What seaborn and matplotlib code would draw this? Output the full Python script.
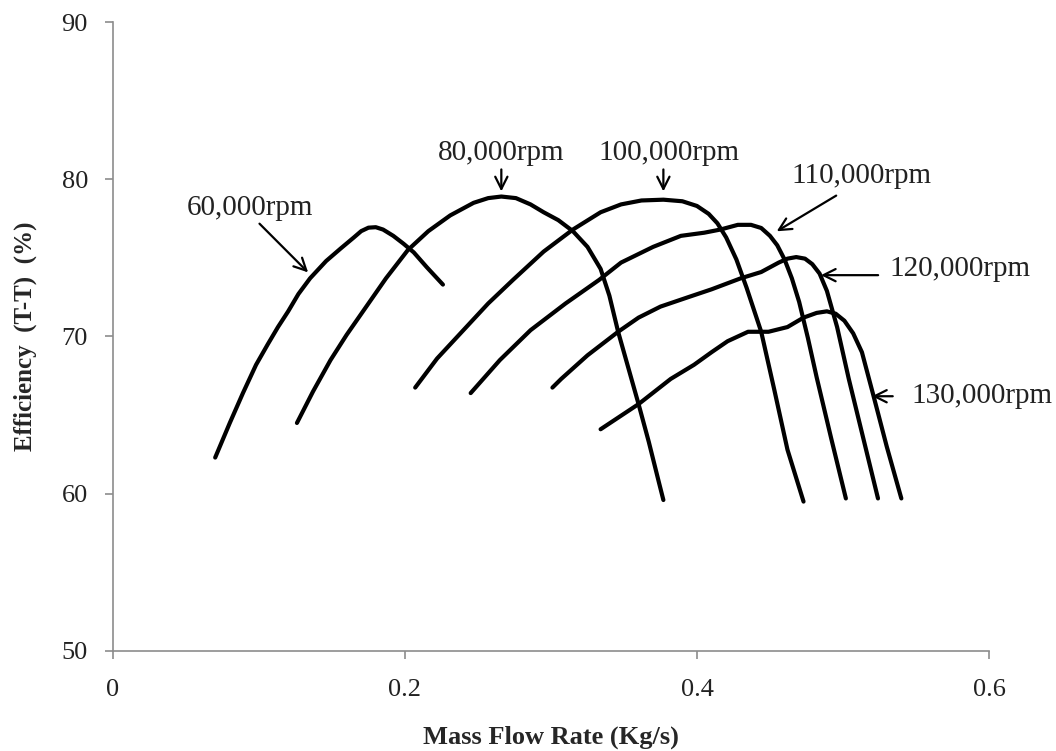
import numpy as np
import pandas as pd
import matplotlib
matplotlib.use("Agg")
import matplotlib.pyplot as plt
import seaborn as sns

# Efficiency curves, one pair of arrays per speed line
m60 = [0.070, 0.080, 0.089, 0.098, 0.106, 0.113, 0.120, 0.127, 0.135, 0.146,
       0.156, 0.165, 0.170, 0.175, 0.180, 0.185, 0.192, 0.199, 0.206, 0.215,
       0.226]
e60 = [62.3, 64.5, 66.4, 68.2, 69.5, 70.6, 71.6, 72.7, 73.7, 74.8,
       75.6, 76.3, 76.7, 76.92, 76.95, 76.8, 76.4, 75.9, 75.35, 74.4,
       73.3]

m80 = [0.126, 0.137, 0.149, 0.160, 0.172, 0.187, 0.202, 0.216, 0.231, 0.247,
       0.257, 0.266, 0.276, 0.286, 0.295, 0.305, 0.315, 0.325, 0.334, 0.340,
       0.346, 0.353, 0.360, 0.367, 0.374, 0.377]
e80 = [64.5, 66.5, 68.5, 70.1, 71.7, 73.7, 75.5, 76.7, 77.7, 78.5,
       78.8, 78.9, 78.8, 78.4, 77.9, 77.4, 76.7, 75.7, 74.3, 72.6,
       70.3, 68.0, 65.7, 63.3, 60.7, 59.6]

m100 = [0.207, 0.222, 0.240, 0.257, 0.274, 0.295, 0.315, 0.334, 0.348, 0.362,
        0.377, 0.390, 0.400, 0.408, 0.414, 0.420, 0.427, 0.434, 0.444, 0.453,
        0.462, 0.473]
e100 = [66.75, 68.6, 70.4, 72.1, 73.6, 75.4, 76.8, 77.9, 78.4, 78.65,
        78.7, 78.6, 78.3, 77.8, 77.2, 76.3, 74.9, 73.1, 70.3, 66.6,
        62.8, 59.5]

m110 = [0.245, 0.265, 0.286, 0.310, 0.333, 0.348, 0.370, 0.389, 0.405, 0.416,
        0.428, 0.437, 0.444, 0.450, 0.455, 0.460, 0.465, 0.470, 0.476, 0.482,
        0.492, 0.502]
e110 = [66.4, 68.5, 70.4, 72.1, 73.6, 74.7, 75.7, 76.4, 76.6, 76.8,
        77.1, 77.1, 76.9, 76.4, 75.8, 74.9, 73.7, 72.2, 69.9, 67.4,
        63.5, 59.7]

m120 = [0.301, 0.307, 0.325, 0.346, 0.360, 0.375, 0.394, 0.410, 0.430, 0.444,
        0.456, 0.462, 0.468, 0.474, 0.479, 0.484, 0.489, 0.496, 0.504, 0.514,
        0.524]
e120 = [66.75, 67.3, 68.8, 70.3, 71.2, 71.9, 72.5, 73.0, 73.7, 74.1,
        74.7, 74.95, 75.05, 74.95, 74.6, 74.0, 72.9, 70.6, 67.3, 63.5,
        59.7]

m130 = [0.334, 0.347, 0.360, 0.382, 0.398, 0.410, 0.421, 0.435, 0.449, 0.462,
        0.473, 0.482, 0.489, 0.495, 0.501, 0.507, 0.513, 0.521, 0.530, 0.540]
e130 = [64.1, 64.9, 65.7, 67.3, 68.2, 69.0, 69.7, 70.3, 70.3, 70.6,
        71.2, 71.5, 71.6, 71.45, 71.0, 70.2, 69.0, 66.2, 63.0, 59.7]

speeds = ["60,000rpm", "80,000rpm", "100,000rpm", "110,000rpm", "120,000rpm", "130,000rpm"]
flows = [m60, m80, m100, m110, m120, m130]
effs = [e60, e80, e100, e110, e120, e130]

x_ticks = [0, 0.2, 0.4, 0.6]
x_tick_labels = ["0", "0.2", "0.4", "0.6"]
y_ticks = [50, 60, 70, 80, 90]

# long table for seaborn
frames = []
for name, m, e in zip(speeds, flows, effs):
    frames.append(pd.DataFrame({"flow": m, "eff": e, "speed": name}))
df = pd.concat(frames, ignore_index=True)

sns.set_theme(style="white")
plt.rcParams["font.family"] = ["Liberation Serif", "DejaVu Serif"]
plt.rcParams["lines.solid_joinstyle"] = "round"
plt.rcParams["lines.solid_capstyle"] = "round"

fig = plt.figure(figsize=(10.56, 7.51), dpi=100)
ax = fig.add_axes([0.107, 0.1332, 0.8295, 0.8375])

sns.lineplot(data=df, x="flow", y="eff", hue="speed", units="speed",
             estimator=None, sort=False, palette=["black"] * len(speeds),
             linewidth=3.0, legend=False, ax=ax)

ax.set_xlim(0, 0.6)
ax.set_ylim(50, 90)
ax.set_xticks(x_ticks)
ax.set_xticklabels(x_tick_labels)
ax.set_yticks(y_ticks)

for side in ["top", "right"]:
    ax.spines[side].set_visible(False)
for side in ["left", "bottom"]:
    ax.spines[side].set_color("#8c8c8c")
    ax.spines[side].set_linewidth(1.2)

ax.tick_params(axis="both", which="major", direction="out", length=6, width=1.2,
               color="#8c8c8c", labelsize=19, labelcolor="#222222")
ax.tick_params(axis="x", pad=14, bottom=True)
ax.tick_params(axis="y", pad=12, left=True)

ax.set_xlabel("Mass Flow Rate (Kg/s)", fontsize=19, fontweight="bold", labelpad=18)
ax.set_ylabel("Efficiency  (T-T)  (%)", fontsize=18, fontweight="bold", labelpad=18)

# speed labels with arrows
arrow_kw = dict(arrowstyle="->", color="black", lw=1.6, mutation_scale=22)
label_kw = dict(fontsize=21, color="#222222")

ax.annotate("", xy=(0.135, 73.95), xytext=(0.099, 77.3), arrowprops=arrow_kw)
ax.text(0.094, 78.2, speeds[0], ha="center", va="center", **label_kw)

ax.annotate("", xy=(0.266, 79.05), xytext=(0.266, 80.8), arrowprops=arrow_kw)
ax.text(0.266, 81.7, speeds[1], ha="center", va="center", **label_kw)

ax.annotate("", xy=(0.377, 79.05), xytext=(0.377, 80.8), arrowprops=arrow_kw)
ax.text(0.381, 81.7, speeds[2], ha="center", va="center", **label_kw)

ax.annotate("", xy=(0.453, 76.6), xytext=(0.497, 79.05), arrowprops=arrow_kw)
ax.text(0.5125, 80.2, speeds[3], ha="center", va="center", **label_kw)

ax.annotate("", xy=(0.483, 73.9), xytext=(0.526, 73.9), arrowprops=arrow_kw)
ax.text(0.580, 74.3, speeds[4], ha="center", va="center", **label_kw)

ax.annotate("", xy=(0.518, 66.2), xytext=(0.536, 66.2), arrowprops=arrow_kw)
ax.text(0.595, 66.2, speeds[5], ha="center", va="center", **label_kw)

fig.savefig("out.png", dpi=100)
